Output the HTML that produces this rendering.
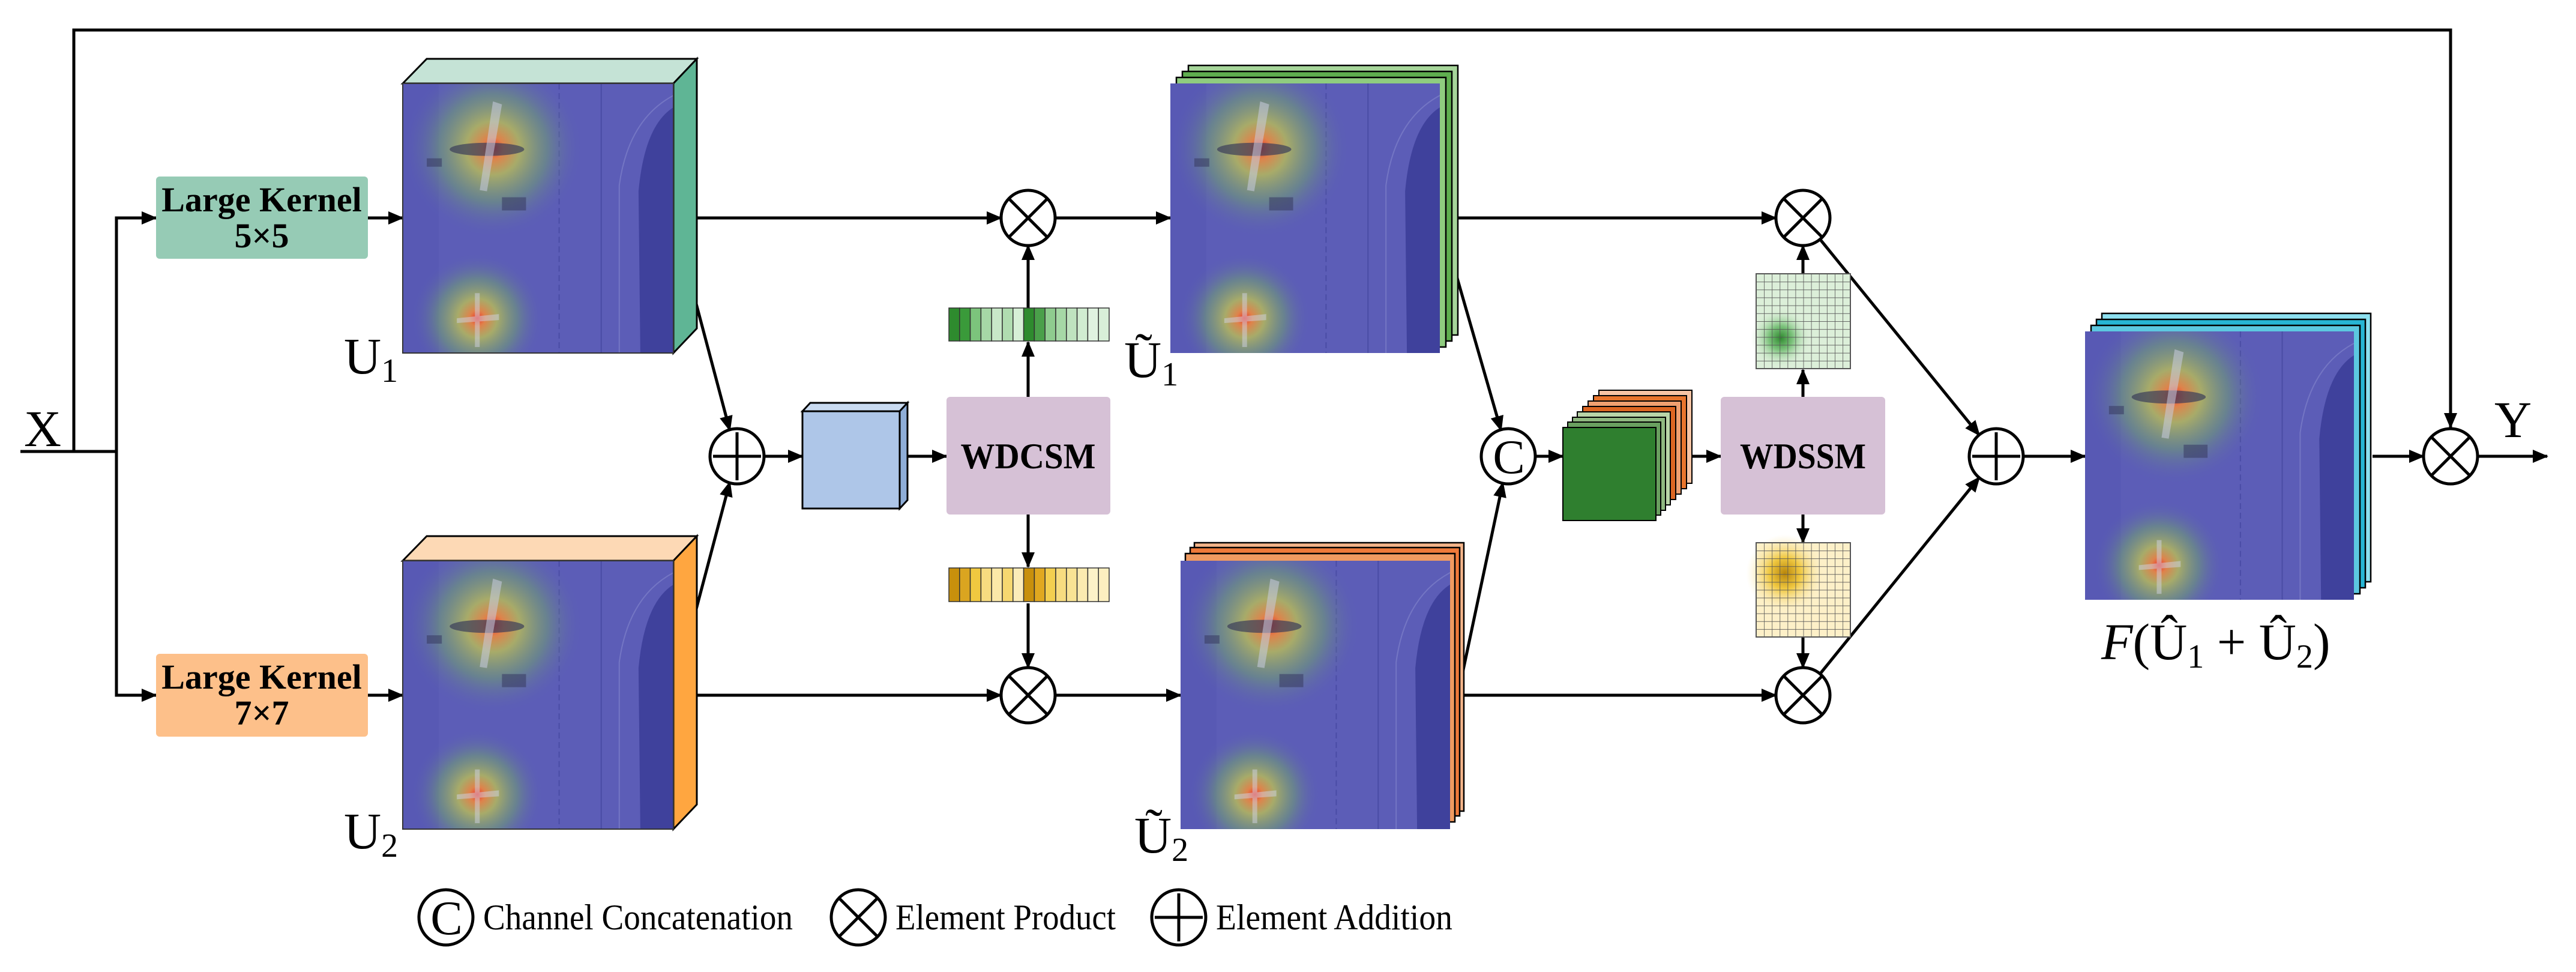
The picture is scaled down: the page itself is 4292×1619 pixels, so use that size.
<!DOCTYPE html>
<html><head><meta charset="utf-8"><style>html,body{margin:0;padding:0;background:#fff}svg{display:block}svg text{font-family:"Liberation Serif","Times New Roman",serif}</style></head>
<body>
<svg width="4292" height="1619" viewBox="0 0 4292 1619" xmlns="http://www.w3.org/2000/svg" style="font-family:'Liberation Serif',serif">
<defs>
<marker id="ah" markerUnits="userSpaceOnUse" markerWidth="26" markerHeight="22" refX="24" refY="11" orient="auto"><path d="M0,0 L26,11 L0,22 z" fill="#000"/></marker>
<radialGradient id="heat"><stop offset="0" stop-color="#ff2a1a" stop-opacity=".9"/><stop offset=".12" stop-color="#ff8c30" stop-opacity=".8"/><stop offset=".3" stop-color="#c8cc48" stop-opacity=".7"/><stop offset=".6" stop-color="#78b060" stop-opacity=".45"/><stop offset="1" stop-color="#5b5cb8" stop-opacity="0"/></radialGradient>
<radialGradient id="gblob"><stop offset="0" stop-color="#2f8a2f"/><stop offset=".4" stop-color="#7cc27c"/><stop offset="1" stop-color="#dcefd9" stop-opacity="0"/></radialGradient>
<radialGradient id="yblob"><stop offset="0" stop-color="#b8860b"/><stop offset=".4" stop-color="#f0c840"/><stop offset="1" stop-color="#fdf0c8" stop-opacity="0"/></radialGradient>
<pattern id="grid" width="13.1" height="13.17" patternUnits="userSpaceOnUse" x="2926" y="456"><path d="M0,0 H13.1 M0,0 V13.17" stroke="#555" stroke-width="1.6" fill="none"/></pattern>
<pattern id="grid2" width="13.1" height="13.08" patternUnits="userSpaceOnUse" x="2926" y="904"><path d="M0,0 H13.1 M0,0 V13.08" stroke="#555" stroke-width="1.6" fill="none"/></pattern>
<symbol id="hm" viewBox="0 0 450 450" preserveAspectRatio="none">
<rect width="450" height="450" fill="#5c5db7"/>
<rect x="0" y="0" width="60" height="450" fill="#5557b2" opacity=".6"/>
<line x1="260" y1="0" x2="260" y2="450" stroke="#4a4ca5" stroke-width="2" stroke-dasharray="10,6"/>
<line x1="330" y1="0" x2="330" y2="450" stroke="#4a4ca5" stroke-width="2"/>
<path d="M395,450 L392,180 Q402,70 450,40 L450,450 z" fill="#3f419c"/>
<path d="M360,450 L360,170 Q375,60 450,20" stroke="#7476c4" stroke-width="2" fill="none"/>
<circle cx="150" cy="108" r="150" fill="url(#heat)"/>
<circle cx="124" cy="392" r="110" fill="url(#heat)"/>
<ellipse cx="140" cy="110" rx="62" ry="11" fill="#3a3d5a" opacity=".7"/>
<path d="M150,30 L165,35 L140,180 L128,178 z" fill="#c8cce0" opacity=".55"/>
<path d="M120,350 L128,350 L128,440 L120,440 z M90,392 L160,385 L160,395 L90,400z" fill="#cfd2e4" opacity=".5"/>
<rect x="165" y="190" width="40" height="22" fill="#3a3d66" opacity=".6"/>
<rect x="40" y="125" width="25" height="14" fill="#3a3d66" opacity=".6"/>
</symbol>
</defs>
<g fill="none" stroke="#000" stroke-width="5">
<path d="M123,752 V50 H4083 V712" marker-end="url(#ah)"/>
<path d="M34,752 H194"/>
<path d="M194,752 V363 H260" marker-end="url(#ah)"/>
<path d="M194,752 V1158 H260" marker-end="url(#ah)"/>
<path d="M613,363 H671" marker-end="url(#ah)"/>
<path d="M613,1158 H671" marker-end="url(#ah)"/>
<path d="M1122,363 H1668" marker-end="url(#ah)"/>
<path d="M1122,1158 H1668" marker-end="url(#ah)"/>
<path d="M1122,363 L1216,717" marker-end="url(#ah)"/>
<path d="M1122,1158 L1216,803" marker-end="url(#ah)"/>
<path d="M1273,760 H1337" marker-end="url(#ah)"/>
<path d="M1512,760 H1577" marker-end="url(#ah)"/>
<path d="M1713,661 V570" marker-end="url(#ah)"/>
<path d="M1713,513 V409" marker-end="url(#ah)"/>
<path d="M1713,857 V944" marker-end="url(#ah)"/>
<path d="M1713,1005 V1112" marker-end="url(#ah)"/>
<path d="M1758,363 H1950" marker-end="url(#ah)"/>
<path d="M1758,1158 H1967" marker-end="url(#ah)"/>
<path d="M2399,363 H2959" marker-end="url(#ah)"/>
<path d="M2416,1158 H2959" marker-end="url(#ah)"/>
<path d="M2399,363 L2501,717" marker-end="url(#ah)"/>
<path d="M2429,1158 L2504,804" marker-end="url(#ah)"/>
<path d="M2558,760 H2604" marker-end="url(#ah)"/>
<path d="M2819,760 H2867" marker-end="url(#ah)"/>
<path d="M3004,661 V616" marker-end="url(#ah)"/>
<path d="M3004,456 V409" marker-end="url(#ah)"/>
<path d="M3004,857 V904" marker-end="url(#ah)"/>
<path d="M3004,1061 V1112" marker-end="url(#ah)"/>
<path d="M3032,398 L3298,725" marker-end="url(#ah)"/>
<path d="M3032,1123 L3298,795" marker-end="url(#ah)"/>
<path d="M3371,760 H3474" marker-end="url(#ah)"/>
<path d="M3953,760 H4038" marker-end="url(#ah)"/>
<path d="M4128,760 H4244" marker-end="url(#ah)"/>
</g>
<rect x="260" y="294" width="353" height="137" rx="6" fill="#96cbb5"/>
<rect x="260" y="1089" width="353" height="138" rx="6" fill="#fdc08a"/>
<g font-weight="bold" font-size="58" text-anchor="middle" fill="#000">
<text x="436" y="352">Large Kernel</text><text x="436" y="412">5×5</text>
<text x="436" y="1147">Large Kernel</text><text x="436" y="1207">7×7</text>
</g>
<g stroke="#000" stroke-width="3">
<path d="M671,139 L711,98 L1161,98 L1122,139 z" fill="#c5e3d6"/>
<path d="M1122,139 L1161,98 L1161,547 L1122,588 z" fill="#5fb595"/>
<path d="M671,934 L711,893 L1161,893 L1122,934 z" fill="#fdd9b5"/>
<path d="M1122,934 L1161,893 L1161,1340 L1122,1381 z" fill="#ffa640"/>
</g>
<use href="#hm" x="671" y="139" width="451" height="449"/>
<use href="#hm" x="671" y="934" width="451" height="447"/>
<rect x="671" y="139" width="451" height="449" fill="none" stroke="#333" stroke-width="2"/>
<rect x="671" y="934" width="451" height="447" fill="none" stroke="#333" stroke-width="2"/>
<g stroke="#000" stroke-width="2.5">
<rect x="1980" y="109" width="449" height="449" fill="#a6d59a"/>
<rect x="1970" y="119" width="449" height="449" fill="#5fae4f"/>
<rect x="1960" y="129" width="449" height="449" fill="#8fcc7f"/>
<rect x="1990" y="904" width="449" height="447" fill="#f5b58a"/>
<rect x="1983" y="912" width="449" height="447" fill="#ef7a3a"/>
<rect x="1975" y="922" width="449" height="447" fill="#f09a60"/>
<rect x="3502" y="522" width="448" height="447" fill="#8de0f0"/>
<rect x="3493" y="532" width="448" height="447" fill="#27b5d4"/>
<rect x="3484" y="542" width="448" height="447" fill="#5cc8e0"/>
</g>
<use href="#hm" x="1950" y="139" width="449" height="449"/>
<use href="#hm" x="1967" y="934" width="449" height="447"/>
<use href="#hm" x="3474" y="552" width="448" height="447"/>
<g stroke="#000" stroke-width="3">
<path d="M1337,685 L1350,671 L1512,671 L1499,685 z" fill="#c9daf0"/>
<path d="M1499,685 L1512,671 L1512,833 L1499,847 z" fill="#8faed8"/>
<rect x="1337" y="685" width="162" height="162" fill="#aec6e8"/>
</g>
<rect x="1577" y="661" width="273" height="196" rx="6" fill="#d6c1d6"/>
<rect x="2867" y="661" width="274" height="196" rx="6" fill="#d6c1d6"/>
<g font-weight="bold" font-size="60" text-anchor="middle">
<text x="1713" y="780" textLength="225" lengthAdjust="spacingAndGlyphs">WDCSM</text>
<text x="3004" y="780" textLength="210" lengthAdjust="spacingAndGlyphs">WDSSM</text>
</g>
<g stroke="#333" stroke-width="1.5">
<rect x="1581" y="513" width="17.8" height="55" fill="#2e8b2e"/><rect x="1598.8" y="513" width="17.8" height="55" fill="#3a9a3a"/><rect x="1616.6" y="513" width="17.8" height="55" fill="#7cc47c"/><rect x="1634.4" y="513" width="17.8" height="55" fill="#a6d8a6"/><rect x="1652.2" y="513" width="17.8" height="55" fill="#c8e8c8"/><rect x="1670" y="513" width="17.8" height="55" fill="#b0dcb0"/><rect x="1687.8" y="513" width="17.8" height="55" fill="#d6efd6"/><rect x="1705.6" y="513" width="17.8" height="55" fill="#2e8b2e"/><rect x="1723.4" y="513" width="17.8" height="55" fill="#4aa04a"/><rect x="1741.2" y="513" width="17.8" height="55" fill="#8fcc8f"/><rect x="1759" y="513" width="17.8" height="55" fill="#a6d8a6"/><rect x="1776.8" y="513" width="17.8" height="55" fill="#bfe3bf"/><rect x="1794.6" y="513" width="17.8" height="55" fill="#d0ecd0"/><rect x="1812.4" y="513" width="17.8" height="55" fill="#e0f2e0"/><rect x="1830.2" y="513" width="17.8" height="55" fill="#d8efd8"/>
<rect x="1581" y="946" width="17.8" height="56" fill="#c8900c"/><rect x="1598.8" y="946" width="17.8" height="56" fill="#daa520"/><rect x="1616.6" y="946" width="17.8" height="56" fill="#f0c840"/><rect x="1634.4" y="946" width="17.8" height="56" fill="#f7dc80"/><rect x="1652.2" y="946" width="17.8" height="56" fill="#fbe8a8"/><rect x="1670" y="946" width="17.8" height="56" fill="#f6d870"/><rect x="1687.8" y="946" width="17.8" height="56" fill="#fcecb8"/><rect x="1705.6" y="946" width="17.8" height="56" fill="#c8900c"/><rect x="1723.4" y="946" width="17.8" height="56" fill="#e0a820"/><rect x="1741.2" y="946" width="17.8" height="56" fill="#f3cf50"/><rect x="1759" y="946" width="17.8" height="56" fill="#f7dc80"/><rect x="1776.8" y="946" width="17.8" height="56" fill="#f9e394"/><rect x="1794.6" y="946" width="17.8" height="56" fill="#fbebb0"/><rect x="1812.4" y="946" width="17.8" height="56" fill="#fdf2c8"/><rect x="1830.2" y="946" width="17.8" height="56" fill="#fcefc0"/>
</g>
<g stroke="#000" stroke-width="2">
<rect x="2664" y="650" width="155" height="155" fill="#f7c4a4"/>
<rect x="2655" y="659" width="155" height="155" fill="#e8742c"/>
<rect x="2646" y="668" width="155" height="155" fill="#f0a070"/>
<rect x="2637" y="677" width="155" height="155" fill="#dd6622"/>
<rect x="2628" y="686" width="155" height="155" fill="#b9d4a8"/>
<rect x="2620" y="695" width="155" height="155" fill="#8fb880"/>
<rect x="2612" y="703" width="155" height="155" fill="#6aa060"/>
<rect x="2604" y="712" width="155" height="155" fill="#2f7f2f"/>
</g>
<rect x="2926" y="456" width="157" height="158" fill="#dcefd9"/>
<circle cx="2967" cy="563" r="50" fill="url(#gblob)"/>
<rect x="2926" y="456" width="157" height="158" fill="url(#grid)" stroke="#555" stroke-width="2"/>
<rect x="2926" y="904" width="157" height="157" fill="#fdf0c8"/>
<circle cx="2974" cy="955" r="65" fill="url(#yblob)"/>
<rect x="2926" y="904" width="157" height="157" fill="url(#grid2)" stroke="#555" stroke-width="2"/>
<g fill="#fff" stroke="#000" stroke-width="5">
<ellipse cx="1713" cy="363" rx="45" ry="46"/><path d="M1681,331 L1745,395 M1745,331 L1681,395"/>
<ellipse cx="1713" cy="1158" rx="45" ry="46"/><path d="M1681,1126 L1745,1190 M1745,1126 L1681,1190"/>
<ellipse cx="3004" cy="363" rx="45" ry="46"/><path d="M2972,331 L3036,395 M3036,331 L2972,395"/>
<ellipse cx="3004" cy="1158" rx="45" ry="46"/><path d="M2972,1126 L3036,1190 M3036,1126 L2972,1190"/>
<ellipse cx="4083" cy="760" rx="45" ry="46"/><path d="M4051,728 L4115,792 M4115,728 L4051,792"/>
<ellipse cx="1228" cy="760" rx="45" ry="46"/><path d="M1188,760 H1268 M1228,720 V800"/>
<ellipse cx="3326" cy="760" rx="45" ry="46"/><path d="M3286,760 H3366 M3326,720 V800"/>
<ellipse cx="2513" cy="760" rx="45" ry="46"/>
<ellipse cx="743" cy="1528" rx="45" ry="46"/>
<ellipse cx="1430" cy="1528" rx="45" ry="46"/><path d="M1398,1496 L1462,1560 M1462,1496 L1398,1560"/>
<ellipse cx="1964" cy="1528" rx="45" ry="46"/><path d="M1924,1528 H2004 M1964,1488 V1568"/>
</g>
<g font-size="80" text-anchor="middle"><text x="2514" y="788">C</text><text x="744" y="1556">C</text></g>
<g font-size="86" fill="#000">
<text x="40" y="743">X</text>
<text x="4156" y="728">Y</text>
<text x="573" y="622">U<tspan font-size="56" dy="14">1</tspan></text>
<text x="573" y="1413">U<tspan font-size="56" dy="14">2</tspan></text>
<text x="1873" y="628">Ũ<tspan font-size="56" dy="14">1</tspan></text>
<text x="1890" y="1420">Ũ<tspan font-size="56" dy="14">2</tspan></text>
<text x="3501" y="1098"><tspan font-style="italic">F</tspan>(Û<tspan font-size="56" dy="14">1</tspan><tspan dy="-14"> + Û</tspan><tspan font-size="56" dy="14">2</tspan><tspan dy="-14">)</tspan></text>
</g>
<g font-size="60">
<text x="805" y="1548" textLength="516" lengthAdjust="spacingAndGlyphs">Channel Concatenation</text>
<text x="1492" y="1548" textLength="367" lengthAdjust="spacingAndGlyphs">Element Product</text>
<text x="2026" y="1548" textLength="394" lengthAdjust="spacingAndGlyphs">Element Addition</text>
</g>
</svg>
</body></html>
